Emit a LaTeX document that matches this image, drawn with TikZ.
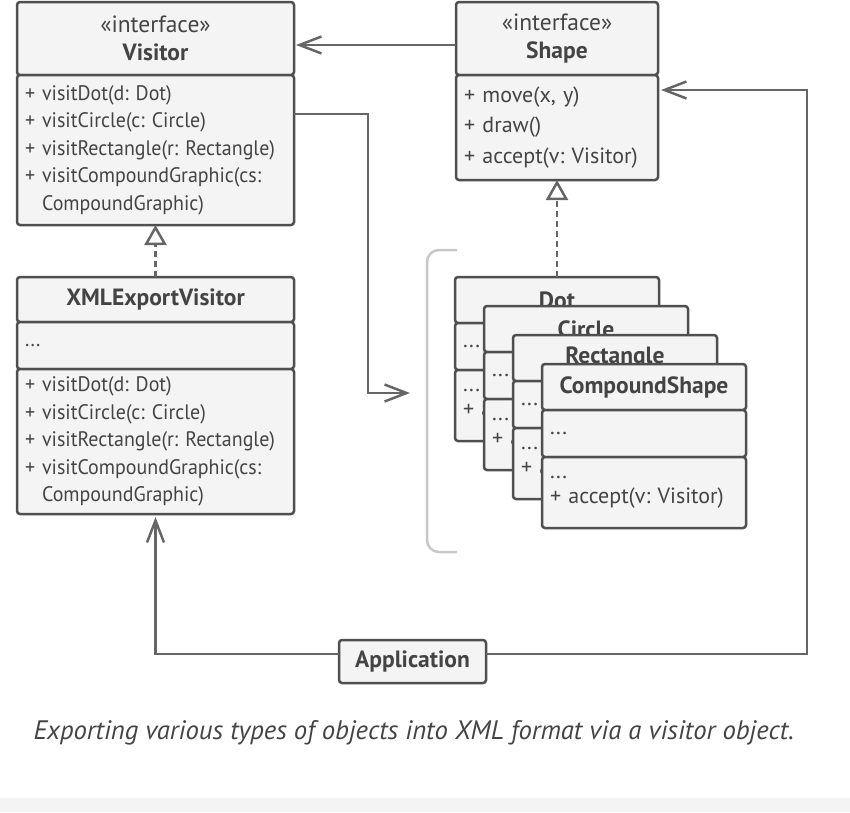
\documentclass[tikz,border=0pt]{standalone}
\usepackage{fontspec}
\setmainfont{PT Sans}
\newfontfamily\narrowfont{PT Sans}[FakeStretch=0.95]
\usetikzlibrary{positioning, arrows.meta}
\definecolor{boxfill}{HTML}{F4F4F4}
\definecolor{boxline}{HTML}{4F4F4F}
\definecolor{wire}{HTML}{666666}
\definecolor{ink}{HTML}{444444}
\definecolor{bracegray}{HTML}{C8C8C8}
\newcommand{\umlhead}{\fontsize{23.5pt}{28.5pt}\selectfont}
\newcommand{\umlbody}{\narrowfont\fontsize{21pt}{27.5pt}\selectfont}
\newcommand{\umlsmall}{\fontsize{22pt}{25pt}\selectfont}
\tikzstyle{compart} = [rectangle, rounded corners=3pt, draw=boxline, fill=boxfill, line width=2.5pt, text=ink, outer sep=0pt, inner xsep=8pt, inner ysep=2pt]
\tikzstyle{head} = [compart, align=center, font=\umlhead]
\tikzstyle{body} = [compart, align=left, font=\umlbody]
\tikzstyle{assoc} = [color=wire, line width=2.5pt, -{Straight Barb[length=22pt, width=17pt]}]
\tikzstyle{realize} = [color=wire, line width=2.5pt, dash pattern=on 6pt off 4pt, -{Triangle[open, length=20pt, width=22pt]}]
\frenchspacing

\begin{document}
\begin{tikzpicture}[x=1pt, y=-1pt]
	\useasboundingbox (0,0) rectangle (850,812);
	\fill[boxfill] (0,798) rectangle (850,812);
	% bracket round the concrete shapes
	\draw[color=bracegray, line width=2.5pt, rounded corners=12pt] (457,250) -| (427,552) -- (457,552);
	
	\node (visitorHead) [head, minimum width=277pt, minimum height=73pt, anchor=north west] at (17,2) {«interface»\\\textbf{Visitor}};
	\node (visitorBody) [body, text width=261pt, minimum height=150pt, below=0pt of visitorHead] {+ visitDot(d: Dot)\\+ visitCircle(c: Circle)\\+ visitRectangle(r: Rectangle)\\+ visitCompoundGraphic(cs:\\\phantom{+ }CompoundGraphic)};
	
	\node (shapeHead) [head, minimum width=202pt, minimum height=73pt, anchor=north west] at (456,2) {«interface»\\\textbf{Shape}};
	\node (shapeBody) [body, text width=186pt, minimum height=105pt, below=0pt of shapeHead, font=\fontsize{22pt}{30.5pt}\selectfont] {+ move(x, y)\\+ draw()\\+ accept(v: Visitor)};
	
	\node (xmlHead) [head, minimum width=277pt, minimum height=45pt, anchor=north west] at (17,277) {\textbf{XMLExportVisitor}};
	\node (xmlAttr) [body, text width=261pt, minimum height=47pt, below=0pt of xmlHead] {...};
	\node (xmlMeth) [body, text width=261pt, minimum height=145pt, below=0pt of xmlAttr] {+ visitDot(d: Dot)\\+ visitCircle(c: Circle)\\+ visitRectangle(r: Rectangle)\\+ visitCompoundGraphic(cs:\\\phantom{+ }CompoundGraphic)};
	
	% stacked concrete shapes
	\foreach \name/\label [count=\i from 0] in {dot/Dot, circle/Circle, rect/Rectangle, compound/CompoundShape} {
		\node (\name Head) [head, minimum width=204pt, minimum height=46pt, anchor=north west] at ({455+29*\i},{277+29*\i}) {\textbf{\label}};
		\node (\name Attr) [body, text width=188pt, minimum height=47pt, below=0pt of \name Head, font=\umlsmall] {...};
		\node (\name Meth) [body, text width=188pt, minimum height=71pt, below=0pt of \name Attr, font=\umlsmall] {...\\+ accept(v: Visitor)};
	}
	
	\node (app) [head, minimum width=147pt, minimum height=43pt, anchor=north west] at (339,640) {\textbf{Application}};
	\coordinate (shapesIn) at (410,393);
	
	\draw[realize] (dotHead.north) -- (shapeBody.south);
	\draw[realize] (xmlHead.north) -- (visitorBody.south);
	\draw[assoc, shorten >=2pt] ([yshift=-6.5pt]shapeHead.west) -- ([yshift=-6.5pt]visitorHead.east);
	\draw[assoc] ([yshift=36pt]visitorBody.east) -- ++(74,0) |- (shapesIn);
	\draw[assoc, shorten >=3pt] ([yshift=7.5pt]app.west) -| (xmlMeth.south);
	\draw[assoc, shorten >=3pt] ([yshift=7.5pt]app.east) -- ++(321,0) |- ([yshift=37.5pt]shapeBody.east);
	
	\node (caption) [anchor=west, text=ink, font=\fontsize{26.7pt}{30pt}\selectfont\itshape] at (30,733) {Exporting various types of objects into XML format via a visitor object.};
\end{tikzpicture}
\end{document}
